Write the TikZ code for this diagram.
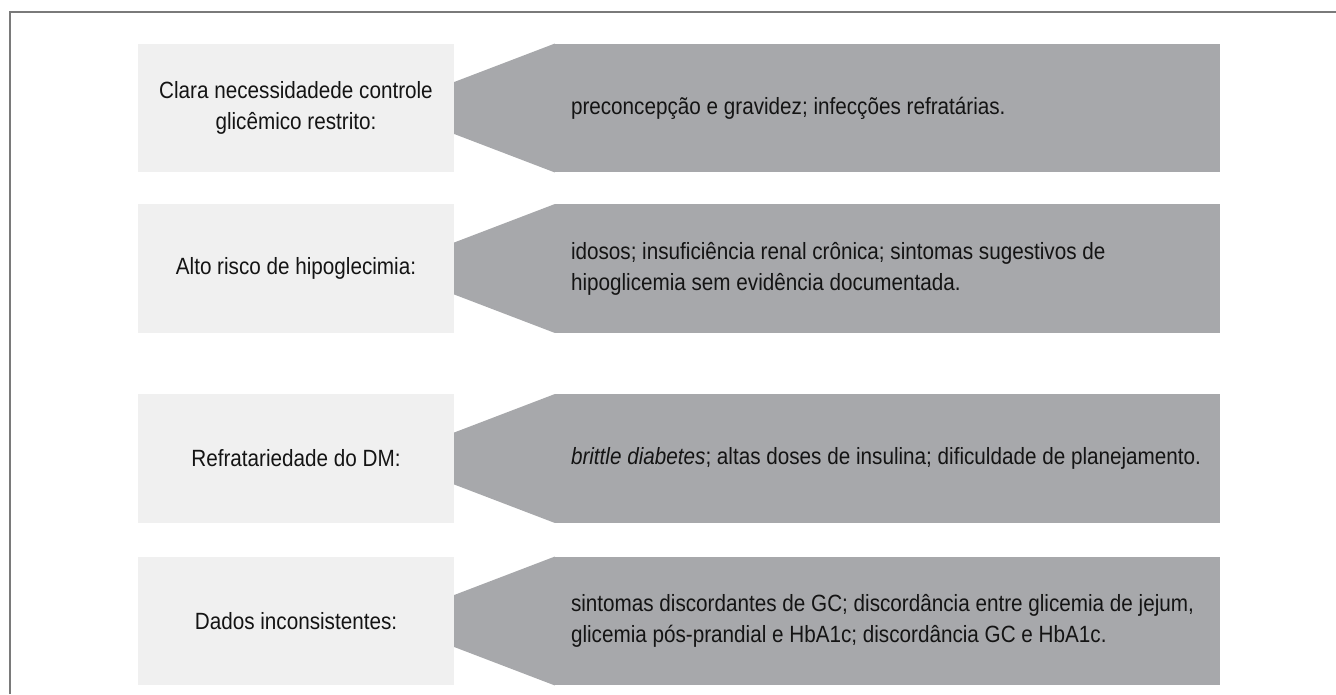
\documentclass[tikz,border=0pt]{standalone}
\usepackage{fontspec}
\setmainfont{Liberation Sans}[FakeStretch=0.88]
\usetikzlibrary{calc}
\definecolor{boxlight}{HTML}{F0F0F0}
\definecolor{boxdark}{HTML}{A7A8AB}
\definecolor{framegray}{HTML}{7A7A7A}
\definecolor{inktext}{HTML}{141414}
\begin{document}
\begin{tikzpicture}[
            x=1pt, y=-1pt,
            every node/.style={text=inktext, font=\fontsize{23.5}{31}\selectfont},
            casebox/.style={fill=boxlight, minimum width=316pt, minimum height=128.5pt, inner sep=0pt, align=center},
            listbox/.style={fill=boxdark, minimum width=665pt, minimum height=128.5pt, inner sep=0pt},
            listtext/.style={anchor=west, align=left, inner sep=0pt}
        ]
        \useasboundingbox (0,0) rectangle (1336,694);
        \draw[framegray, line width=1.2pt] (10,694) -- (10,12) -- (1336,12);
        % left boxes
        \node[casebox] (c1) at (296,108) {Clara necessidadede controle\\glicêmico restrito:};
        \node[casebox] (c2) at (296,268.5) {Alto risco de hipoglecimia:};
        \node[casebox] (c3) at (296,458.5) {Refratariedade do DM:};
        \node[casebox] (c4) at (296,621) {Dados inconsistentes:};
        % right boxes
        \node[listbox] (d1) at (887.5,108) {};
        \node[listbox] (d2) at (887.5,268.5) {};
        \node[listbox] (d3) at (887.5,458.5) {};
        \node[listbox] (d4) at (887.5,621) {};
        \fill[boxdark] ($(c1.east)+(0,-26)$) -- (d1.north west) -- (d1.south west) -- ($(c1.east)+(0,26)$) -- cycle;
        \fill[boxdark] ($(c2.east)+(0,-26)$) -- (d2.north west) -- (d2.south west) -- ($(c2.east)+(0,26)$) -- cycle;
        \fill[boxdark] ($(c3.east)+(0,-26)$) -- (d3.north west) -- (d3.south west) -- ($(c3.east)+(0,26)$) -- cycle;
        \fill[boxdark] ($(c4.east)+(0,-26)$) -- (d4.north west) -- (d4.south west) -- ($(c4.east)+(0,26)$) -- cycle;
        \node[listtext] (t1) at ($(d1.west)+(16,0)$) {preconcepção e gravidez; infecções refratárias.};
        \node[listtext] (t2) at ($(d2.west)+(16,0)$) {idosos; insuficiência renal crônica; sintomas sugestivos de\\hipoglicemia sem evidência documentada.};
        \node[listtext] (t3) at ($(d3.west)+(16,0)$) {\textit{brittle diabetes}; altas doses de insulina; dificuldade de planejamento.};
        \node[listtext] (t4) at ($(d4.west)+(16,0)$) {sintomas discordantes de GC; discordância entre glicemia de jejum,\\glicemia pós-prandial e HbA1c; discordância GC e HbA1c.};
    \end{tikzpicture}
\end{document}
